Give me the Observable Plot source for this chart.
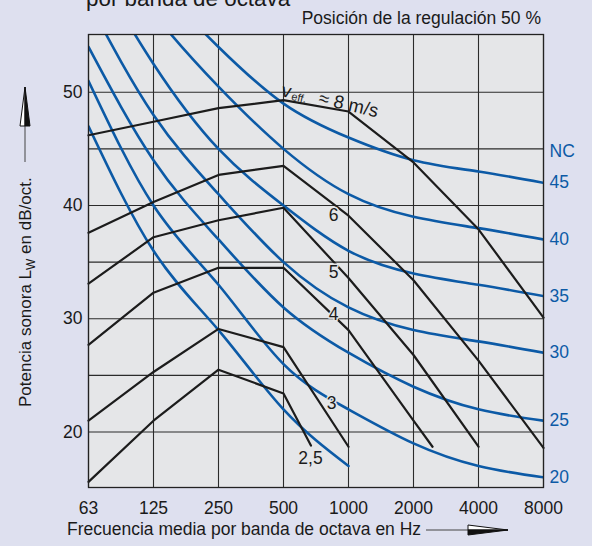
<!DOCTYPE html>
<html><head><meta charset="utf-8">
<script src="https://cdn.jsdelivr.net/npm/d3@7"></script>
<script src="https://cdn.jsdelivr.net/npm/@observablehq/plot@0.6"></script>
<style>
html,body{margin:0;padding:0;background:#dee0ef;}
#wrap{position:relative;width:592px;height:546px;overflow:hidden;font-family:"Liberation Sans",Arial,sans-serif;}
#wrap svg{position:absolute;left:0;top:0;}
</style></head><body><div id="wrap"></div>
<script>
// ---- data ----
const freqs = [63, 125, 250, 500, 1000, 2000, 4000, 8000];
const freqLabels = ["63", "125", "250", "500", "1000", "2000", "4000", "8000"];
const yTicks = [20, 30, 40, 50];
const yGrid = [20, 25, 30, 35, 40, 45, 50];

// NC curves (dB per octave band)
const ncLevels = [15, 20, 25, 30, 35, 40, 45];
const nc15 = [47, 36, 29, 22, 17];
const nc20 = [51, 40, 33, 26, 22, 19, 17, 16];
const nc25 = [54, 44, 37, 31, 27, 24, 22, 21];
const nc30 = [58, 48, 41, 35, 31, 29, 28, 27];
const nc35 = [62, 52.5, 45, 40, 36, 34, 33, 32];
const nc40 = [65, 57, 50.5, 45, 41, 39, 38, 37];
const nc45 = [67, 60, 54, 49, 46, 44, 43, 42];
const ncLabelled = ["45", "40", "35", "30", "25", "20"];

// sound power for air velocities v_eff (m/s)
const vNames = ["2,5", "3", "4", "5", "6", "8"];
const v25Freq = [63, 125, 250, 500, 670];
const v25Db = [15.6, 21.0, 25.5, 23.4, 18.8];
const v3Freq = [63, 125, 250, 500, 1000];
const v3Db = [21.0, 25.3, 29.1, 27.5, 18.7];
const v4Freq = [63, 125, 250, 500, 1000, 2000, 2450];
const v4Db = [27.7, 32.3, 34.5, 34.5, 29.0, 21.0, 18.7];
const v5Freq = [63, 125, 250, 500, 1000, 2000, 4000];
const v5Db = [33.1, 37.2, 38.7, 39.8, 33.6, 26.8, 18.7];
const v6Freq = [63, 125, 250, 500, 1000, 2000, 4000, 8000];
const v6Db = [37.6, 40.3, 42.7, 43.5, 39.1, 33.4, 26.3, 18.6];
const v8Freq = [63, 125, 250, 500, 1000, 2000, 4000, 8000];
const v8Db = [46.2, 47.4, 48.6, 49.3, 48.3, 43.8, 37.9, 30.1];

// curve label anchors
const lineLabelText = ["6", "5", "4", "3", "2,5"];
const lineLabelFreq = [853, 853, 853, 835, 667];
const lineLabelDb = [39.1, 34.1, 30.4, 22.5, 17.7];

// octave-band position of a frequency (nominal band centres → band index)
const oct = (f) => freqs.includes(f) ? freqs.indexOf(f) : Math.log2(f / 62.5);

// ---- tables ----
const ncSeries = [nc15, nc20, nc25, nc30, nc35, nc40, nc45];
const ncRows = ncSeries.flatMap((vals, k) => vals.map((db, i) => ({level: ncLevels[k], f: freqs[i], db})));
const ncEnds = ncSeries.slice(1).map((vals, k) => ({t: ncLabelled[5 - k], f: freqs[vals.length - 1], db: vals[vals.length - 1]}));
const vF = [v25Freq, v3Freq, v4Freq, v5Freq, v6Freq, v8Freq];
const vD = [v25Db, v3Db, v4Db, v5Db, v6Db, v8Db];
const vRows = vNames.flatMap((n, k) => vF[k].map((f, i) => ({v: n, f, db: vD[k][i]})));
const lineLabels = lineLabelText.map((t, i) => ({t, f: lineLabelFreq[i], db: lineLabelDb[i]}));
const X = (d) => oct(d.f);

const BLUE = "#0c5aa6";
const INNER = "#e5e6e8";
const FONT = "Liberation Sans, Arial, sans-serif";

const chart = Plot.plot({
  width: 592, height: 546,
  marginTop: 34, marginRight: 49, marginBottom: 59, marginLeft: 88,
  style: {background: "transparent", fontFamily: FONT, fontSize: "17.5px", color: "#1a1a1a", overflow: "visible"},
  x: {domain: [0, freqs.length - 1], label: null},
  y: {domain: [15.1, 55.1], label: null},
  marks: [
    Plot.frame({fill: INNER, stroke: null}),
    Plot.ruleY(yGrid, {stroke: "#2b2b2b", strokeWidth: 1.1}),
    Plot.ruleX(freqs, {x: oct, stroke: "#2b2b2b", strokeWidth: 1.1}),
    Plot.line(ncRows, {x: X, y: "db", z: "level", stroke: BLUE, strokeWidth: 2.6, curve: "natural", clip: true}),
    Plot.line(vRows, {x: X, y: "db", z: "v", stroke: "#1c1c1c", strokeWidth: 2.2, strokeLinejoin: "round"}),
    Plot.frame({stroke: "#222", strokeWidth: 1.3}),
    Plot.text(lineLabels, {x: X, y: "db", text: "t", fill: "#1c1c1c", stroke: INNER, strokeWidth: 3, fontSize: 17.5}),
    Plot.text(ncEnds, {x: X, y: "db", text: "t", dx: 6, textAnchor: "start", fill: BLUE, fontSize: 17.5}),
    Plot.text(["NC"], {x: oct(8000), y: 44.8, text: d => d, dx: 6, textAnchor: "start", fill: BLUE, fontSize: 17.5}),
    Plot.text(["v"], {x: oct(516), y: 50.1, text: d => d, rotate: 13, fill: "#1c1c1c", fontSize: 19}),
    Plot.text(["eff."], {x: oct(590), y: 49.5, text: d => d, rotate: 13, fill: "#1c1c1c", fontSize: 11}),
    Plot.text(["≈ 8 m/s"], {x: oct(1000), y: 48.9, text: d => d, rotate: 13, fill: "#1c1c1c", fontSize: 18.5}),
    Plot.axisY(yTicks, {tickSize: 0, tickPadding: 6, fontSize: 17.5}),
    Plot.axisX(freqs.map((f, i) => i), {tickSize: 0, tickPadding: 14, fontSize: 17.5, tickFormat: (i) => freqLabels[i]})
  ]
});
const wrap = document.getElementById("wrap");
wrap.appendChild(chart);

// ---- overlay: titles, axis labels, arrows ----
const ns = "http://www.w3.org/2000/svg";
const ov = document.createElementNS(ns, "svg");
ov.setAttribute("width", 592); ov.setAttribute("height", 546);
ov.setAttribute("font-family", FONT);
ov.innerHTML = `
  <text x="86" y="6" font-size="22.4" fill="#1a1a1a">por banda de octava</text>
  <text x="541" y="24" font-size="17.5" text-anchor="end" fill="#1a1a1a">Posición de la regulación 50 %</text>
  <text x="67" y="535" font-size="17.5" fill="#1a1a1a">Frecuencia media por banda de octava en Hz</text>
  <g transform="translate(30.5,407) rotate(-90)">
    <text x="0" y="0" font-size="17" fill="#1a1a1a">Potencia sonora L<tspan font-size="12" dy="4">W</tspan><tspan dy="-4"> en dB/oct.</tspan></text>
  </g>
  <line x1="25" y1="162" x2="25" y2="124" stroke="#444" stroke-width="1"/>
  <path d="M25,87 L20,126 L25,126 Z" fill="#fff" stroke="#111" stroke-width="1"/>
  <path d="M25,87 L30,126 L25,126 Z" fill="#111" stroke="#111" stroke-width="1"/>
  <line x1="426" y1="530" x2="469" y2="530" stroke="#444" stroke-width="1"/>
  <path d="M508,530 L468,525 L468,530 Z" fill="#fff" stroke="#111" stroke-width="1"/>
  <path d="M508,530 L468,535 L468,530 Z" fill="#111" stroke="#111" stroke-width="1"/>
`;
wrap.appendChild(ov);
</script>
</body></html>
